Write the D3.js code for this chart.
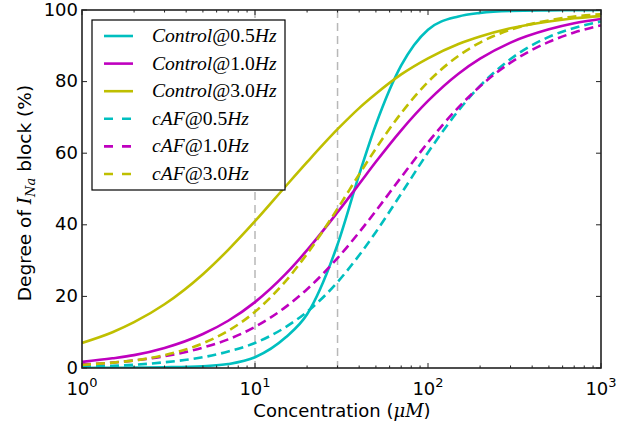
<!DOCTYPE html>
<html><head><meta charset="utf-8">
<script src="https://cdn.jsdelivr.net/npm/d3@7/dist/d3.min.js"></script>
<style>body{margin:0;background:#fff}svg{display:block}</style>
</head><body>
<svg id="c" width="629" height="427"></svg>
<script>
const conc   = [1,1.5,2,3,5,7,10,15,20,30,40,50,70,100,150,200,300,500,700,1000];
const ctrl05 = [0.02,0.05,0.1,0.2,0.5,1.1,3.0,8.5,15,34.5,54,68,84.5,94.5,98.2,99.2,99.75,99.9,99.95,100];
const ctrl10 = [1.7,2.7,3.6,5.6,9.5,13.2,18.4,26.2,32.9,43.5,51.4,57.6,66.4,74.6,82.2,86.4,90.9,94.6,96.3,97.5];
const ctrl30 = [7.0,10.0,12.8,17.8,26.2,33.0,41.0,50.7,57.5,66.7,72.6,76.6,82.0,86.5,90.5,92.6,94.9,96.8,97.7,98.3];
const caf05  = [0.4,0.6,0.9,1.6,3.0,4.6,7.0,11.4,15.7,24.0,31.5,38.0,48.7,60.2,71.9,78.8,86.3,92.5,95.0,96.8];
const caf10  = [1.0,1.5,2.1,3.3,5.7,8.0,11.5,17.0,22.0,30.7,37.9,43.9,53.3,63.0,72.8,78.7,85.3,91.1,93.7,95.7];
const caf30  = [0.9,1.5,2.1,3.6,6.9,10.4,15.7,24.2,31.9,44.5,54.1,61.3,71.2,79.9,87.2,90.9,94.5,97.1,98.2,98.8];
const seriesNames = ["Control@0.5Hz","Control@1.0Hz","Control@3.0Hz","cAF@0.5Hz","cAF@1.0Hz","cAF@3.0Hz"];
const yTicks = [0,20,40,60,80,100];
const xTicks = [1,10,100,1000];
const vLines = [10,30];

const series = [
  {name:seriesNames[0], v:ctrl05, color:"#00bfbf", dash:null},
  {name:seriesNames[1], v:ctrl10, color:"#bf00bf", dash:null},
  {name:seriesNames[2], v:ctrl30, color:"#bfbf00", dash:null},
  {name:seriesNames[3], v:caf05,  color:"#00bfbf", dash:"9,5"},
  {name:seriesNames[4], v:caf10,  color:"#bf00bf", dash:"9,5"},
  {name:seriesNames[5], v:caf30,  color:"#bfbf00", dash:"9,5"}
];

const L=82,R=601,T=10,B=368;
const svg=d3.select("#c");
const x=d3.scaleLog().domain([1,1000]).range([L,R]);
const y=d3.scaleLinear().domain([0,100]).range([B,T]);

svg.append("defs").append("clipPath").attr("id","clip")
  .append("rect").attr("x",L).attr("y",T).attr("width",R-L).attr("height",B-T);

svg.selectAll(".vl").data(vLines).enter().append("line")
  .attr("x1",d=>x(d)).attr("x2",d=>x(d)).attr("y1",T).attr("y2",B)
  .attr("stroke","#b8b8b8").attr("stroke-width",1.5).attr("stroke-dasharray","8,5");

const line=d3.line().x(d=>x(d[0])).y(d=>y(d[1])).curve(d3.curveMonotoneX);
const g=svg.append("g").attr("clip-path","url(#clip)");
series.forEach(s=>{
  g.append("path").datum(conc.map((c,i)=>[c,s.v[i]]))
   .attr("d",line).attr("fill","none").attr("stroke",s.color)
   .attr("stroke-width",2.6).attr("stroke-dasharray",s.dash);
});

const fontSans="'DejaVu Sans', sans-serif";
const minor=[];
for(let e=0;e<3;e++) for(let k=2;k<10;k++) minor.push(k*Math.pow(10,e));
const ax=svg.append("g");
function xt(vals,len){
  ax.selectAll(null).data(vals).enter().append("line")
    .attr("x1",d=>x(d)).attr("x2",d=>x(d)).attr("y1",B).attr("y2",B-len).attr("stroke","#222").attr("stroke-width",1);
  ax.selectAll(null).data(vals).enter().append("line")
    .attr("x1",d=>x(d)).attr("x2",d=>x(d)).attr("y1",T).attr("y2",T+len).attr("stroke","#222").attr("stroke-width",1);
}
xt(xTicks,5); xt(minor,2.5);
ax.selectAll(null).data(yTicks).enter().append("line")
  .attr("x1",L).attr("x2",L+5).attr("y1",d=>y(d)).attr("y2",d=>y(d)).attr("stroke","#222");
ax.selectAll(null).data(yTicks).enter().append("line")
  .attr("x1",R).attr("x2",R-5).attr("y1",d=>y(d)).attr("y2",d=>y(d)).attr("stroke","#222");
ax.append("rect").attr("x",L).attr("y",T).attr("width",R-L).attr("height",B-T)
  .attr("fill","none").attr("stroke","#222").attr("stroke-width",1.6);

svg.selectAll(".yl").data(yTicks).enter().append("text")
  .attr("x",L-4).attr("y",d=>y(d)+5.5).attr("text-anchor","end")
  .attr("font-family",fontSans).attr("font-size",18).text(d=>d);
xTicks.forEach(d=>{
  const t=svg.append("text").attr("x",x(d)).attr("y",395).attr("text-anchor","middle")
    .attr("font-family",fontSans).attr("font-size",18);
  t.append("tspan").text("10");
  t.append("tspan").attr("font-size",13).attr("dy",-8).text(Math.round(Math.log10(d)));
});
const xl=svg.append("text").attr("x",342).attr("y",417).attr("text-anchor","middle")
  .attr("font-family",fontSans).attr("font-size",18);
xl.append("tspan").text("Concentration (");
xl.append("tspan").attr("font-family","'DejaVu Serif', serif").attr("font-style","italic").text("μM");
xl.append("tspan").text(")");
const yl=svg.append("text").attr("transform","translate(31,193) rotate(-90)").attr("text-anchor","middle")
  .attr("font-family",fontSans).attr("font-size",18.5);
yl.append("tspan").text("Degree of ");
yl.append("tspan").attr("font-family","'DejaVu Serif', serif").attr("font-style","italic").text("I");
yl.append("tspan").attr("font-family","'DejaVu Serif', serif").attr("font-style","italic").attr("font-size",13).attr("dy",4).text("Na");
yl.append("tspan").attr("dy",-4).text(" block (%)");

const lg=svg.append("g");
lg.append("rect").attr("x",92).attr("y",20).attr("width",193).attr("height",170)
  .attr("fill","#fff").attr("stroke","#000").attr("stroke-width",1.2);
series.forEach((s,i)=>{
  const yy=36+i*27.6;
  lg.append("line").attr("x1",104).attr("x2",133).attr("y1",yy).attr("y2",yy)
    .attr("stroke",s.color).attr("stroke-width",2.6).attr("stroke-dasharray",s.dash?"9,9":null);
  const t=lg.append("text").attr("x",152).attr("y",yy+6)
    .attr("font-family","'Liberation Serif', serif").attr("font-size",19.6);
  const m=s.name.match(/^([A-Za-z]+)(@[0-9.]+)(Hz)$/);
  t.append("tspan").attr("font-style","italic").text(m[1]);
  t.append("tspan").text(m[2]);
  t.append("tspan").attr("font-style","italic").text(m[3]);
});
</script>
</body></html>
